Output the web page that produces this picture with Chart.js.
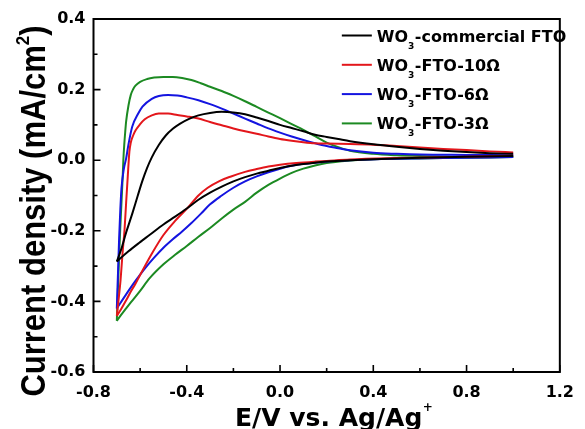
<!DOCTYPE html>
<html>
<head>
<meta charset="utf-8">
<script src="https://cdn.jsdelivr.net/npm/chart.js@4.4.1/dist/chart.umd.min.js"></script>
<style>
    html, body { margin: 0; padding: 0; background: #fff; }
    #wrap { width: 585px; height: 429px; }
</style>
</head>
<body>
<div id="wrap"><canvas id="cvChart"></canvas></div>
<script>
// Cyclic voltammograms: [potential (V vs Ag/Ag+), current density (mA/cm2)]
// each scan is split in an anodic (upper) and cathodic (lower) branch, sorted by potential
const commercialUp = [[-0.70,-0.287],[-0.68,-0.25],[-0.66,-0.205],[-0.633,-0.15],[-0.61,-0.10],[-0.59,-0.058],[-0.57,-0.022],[-0.55,0.008],[-0.52,0.043],[-0.49,0.070],[-0.46,0.089],[-0.43,0.103],[-0.39,0.117],[-0.35,0.127],[-0.30,0.134],[-0.25,0.137],[-0.20,0.135],[-0.15,0.130],[-0.10,0.121],[-0.05,0.111],[0.0,0.100],[0.05,0.091],[0.10,0.082],[0.15,0.072],[0.20,0.066],[0.25,0.060],[0.30,0.054],[0.40,0.045],[0.50,0.038],[0.60,0.032],[0.70,0.027],[0.80,0.023],[0.90,0.020],[1.00,0.018]];
const commercialDown = [[-0.70,-0.287],[-0.65,-0.258],[-0.60,-0.232],[-0.56,-0.212],[-0.50,-0.182],[-0.45,-0.160],[-0.40,-0.137],[-0.35,-0.112],[-0.30,-0.092],[-0.25,-0.075],[-0.20,-0.060],[-0.15,-0.048],[-0.10,-0.038],[-0.05,-0.030],[0.0,-0.022],[0.05,-0.016],[0.10,-0.011],[0.15,-0.007],[0.20,-0.004],[0.30,0.0],[0.40,0.003],[0.60,0.007],[0.80,0.010],[1.00,0.012]];

const ohm10Up = [[-0.70,-0.441],[-0.69,-0.38],[-0.684,-0.34],[-0.675,-0.26],[-0.667,-0.198],[-0.66,-0.12],[-0.653,-0.045],[-0.646,0.025],[-0.64,0.05],[-0.63,0.07],[-0.62,0.084],[-0.60,0.102],[-0.58,0.116],[-0.55,0.127],[-0.52,0.132],[-0.48,0.132],[-0.44,0.128],[-0.40,0.124],[-0.35,0.118],[-0.30,0.108],[-0.25,0.099],[-0.20,0.090],[-0.15,0.082],[-0.10,0.075],[-0.05,0.067],[0.0,0.060],[0.05,0.055],[0.10,0.051],[0.15,0.048],[0.20,0.047],[0.30,0.046],[0.40,0.044],[0.50,0.040],[0.60,0.036],[0.70,0.032],[0.80,0.029],[0.90,0.025],[1.00,0.022]];
const ohm10Down = [[-0.70,-0.441],[-0.68,-0.42],[-0.66,-0.397],[-0.64,-0.372],[-0.62,-0.35],[-0.60,-0.325],[-0.55,-0.265],[-0.50,-0.212],[-0.45,-0.172],[-0.43,-0.158],[-0.40,-0.138],[-0.35,-0.100],[-0.31,-0.078],[-0.26,-0.059],[-0.21,-0.046],[-0.15,-0.033],[-0.10,-0.025],[-0.05,-0.018],[0.0,-0.013],[0.07,-0.008],[0.15,-0.004],[0.20,-0.002],[0.30,0.002],[0.50,0.006],[0.80,0.010],[1.00,0.013]];

const ohm6Up = [[-0.70,-0.42],[-0.695,-0.32],[-0.69,-0.22],[-0.685,-0.14],[-0.68,-0.08],[-0.67,-0.025],[-0.66,0.005],[-0.65,0.045],[-0.634,0.095],[-0.61,0.130],[-0.59,0.152],[-0.55,0.174],[-0.52,0.182],[-0.48,0.185],[-0.44,0.183],[-0.40,0.178],[-0.35,0.170],[-0.30,0.159],[-0.25,0.146],[-0.20,0.132],[-0.15,0.118],[-0.10,0.104],[-0.05,0.090],[0.0,0.078],[0.05,0.067],[0.10,0.057],[0.15,0.048],[0.20,0.040],[0.25,0.034],[0.30,0.028],[0.40,0.021],[0.50,0.018],[0.60,0.016],[0.80,0.015],[1.00,0.014]];
const ohm6Down = [[-0.70,-0.42],[-0.66,-0.38],[-0.62,-0.342],[-0.58,-0.307],[-0.54,-0.276],[-0.50,-0.248],[-0.46,-0.224],[-0.42,-0.202],[-0.38,-0.178],[-0.34,-0.152],[-0.30,-0.125],[-0.25,-0.100],[-0.20,-0.078],[-0.15,-0.060],[-0.10,-0.046],[-0.05,-0.034],[0.0,-0.024],[0.05,-0.016],[0.10,-0.010],[0.20,-0.004],[0.30,0.0],[0.50,0.004],[0.80,0.007],[1.00,0.009]];

const ohm3Up = [[-0.70,-0.455],[-0.695,-0.36],[-0.69,-0.27],[-0.685,-0.19],[-0.68,-0.12],[-0.675,-0.05],[-0.672,0.0],[-0.668,0.045],[-0.664,0.08],[-0.66,0.11],[-0.65,0.155],[-0.64,0.185],[-0.63,0.201],[-0.62,0.211],[-0.60,0.222],[-0.57,0.230],[-0.54,0.234],[-0.50,0.236],[-0.46,0.236],[-0.42,0.233],[-0.38,0.227],[-0.34,0.218],[-0.30,0.208],[-0.25,0.196],[-0.20,0.182],[-0.15,0.167],[-0.10,0.151],[-0.05,0.135],[0.0,0.119],[0.05,0.102],[0.10,0.086],[0.15,0.068],[0.20,0.050],[0.25,0.037],[0.30,0.027],[0.40,0.018],[0.50,0.014],[0.60,0.012],[0.80,0.010],[1.00,0.010]];
const ohm3Down = [[-0.70,-0.455],[-0.68,-0.437],[-0.66,-0.42],[-0.64,-0.403],[-0.60,-0.37],[-0.56,-0.335],[-0.50,-0.295],[-0.45,-0.268],[-0.40,-0.243],[-0.35,-0.217],[-0.30,-0.192],[-0.25,-0.165],[-0.20,-0.140],[-0.15,-0.118],[-0.10,-0.092],[-0.05,-0.070],[0.0,-0.052],[0.05,-0.036],[0.10,-0.024],[0.15,-0.015],[0.20,-0.008],[0.30,-0.001],[0.40,0.003],[0.60,0.005],[0.80,0.007],[1.00,0.009]];

const seriesNames = ['WO₃-commercial FTO', 'WO₃-FTO-10Ω', 'WO₃-FTO-6Ω', 'WO₃-FTO-3Ω'];
const seriesColors = ['#000000', '#e3161b', '#1414e0', '#1c8a22'];

const xTickValues = [-0.8, -0.4, 0.0, 0.4, 0.8, 1.2];
const xMinorValues = [-0.6, -0.2, 0.2, 0.6, 1.0];
const yTickValues = [-0.6, -0.4, -0.2, 0.0, 0.2, 0.4];
const yMinorValues = [-0.5, -0.3, -0.1, 0.1, 0.3];

const xTitle = 'E/V vs. Ag/Ag';
const yTitle = 'Current density (mA/cm';

const branches = [
    [commercialUp, commercialDown],
    [ohm10Up, ohm10Down],
    [ohm6Up, ohm6Down],
    [ohm3Up, ohm3Down]
];

const toPoints = arr => arr.map(p => ({ x: p[0], y: p[1] }));
const fmt = v => (Math.abs(v) < 1e-9 ? '0.0' : v.toFixed(1));

const datasets = [];
branches.forEach((pair, i) => {
    pair.forEach((branch, k) => {
        datasets.push({
            label: seriesNames[i],
            data: toPoints(branch),
            showLine: true,
            borderColor: seriesColors[i],
            backgroundColor: seriesColors[i],
            borderWidth: 2,
            pointRadius: 0,
            cubicInterpolationMode: 'monotone',
            legendRow: k === 0 ? i : -1
        });
    });
});

// frame round the plot plus inward ticks (major and minor)
const frameTicks = {
    id: 'frameTicks',
    afterDatasetsDraw(chart) {
        const { ctx, chartArea: a, scales: { x, y } } = chart;
        ctx.save();
        ctx.strokeStyle = '#000';
        ctx.lineWidth = 2;
        ctx.strokeRect(a.left, a.top, a.right - a.left, a.bottom - a.top);
        ctx.lineWidth = 1.6;
        ctx.beginPath();
        xTickValues.forEach(v => { const p = x.getPixelForValue(v); ctx.moveTo(p, a.bottom); ctx.lineTo(p, a.bottom - 7); });
        xMinorValues.forEach(v => { const p = x.getPixelForValue(v); ctx.moveTo(p, a.bottom); ctx.lineTo(p, a.bottom - 4); });
        yTickValues.forEach(v => { const p = y.getPixelForValue(v); ctx.moveTo(a.left, p); ctx.lineTo(a.left + 7, p); });
        yMinorValues.forEach(v => { const p = y.getPixelForValue(v); ctx.moveTo(a.left, p); ctx.lineTo(a.left + 4, p); });
        ctx.stroke();
        ctx.restore();
    }
};

// axis titles with the superscripts
const axisTitles = {
    id: 'axisTitles',
    afterDraw(chart) {
        const { ctx, chartArea: a } = chart;
        ctx.save();
        ctx.fillStyle = '#000';
        ctx.textBaseline = 'alphabetic';
        ctx.textAlign = 'left';

        // x title
        ctx.font = 'bold 25px "DejaVu Sans"';
        const xw = ctx.measureText(xTitle).width;
        const x0 = (a.left + a.right) / 2 + 2 - xw / 2;
        ctx.fillText(xTitle, x0, 426);
        ctx.font = 'bold 12px "DejaVu Sans"';
        ctx.fillText('+', x0 + xw + 0.5, 411);

        // y title, rotated and a bit wider across
        ctx.translate(45, 211);
        ctx.scale(1.12, 1);
        ctx.rotate(-Math.PI / 2);
        ctx.font = 'bold 31px "Liberation Sans", Arial';
        const w1 = ctx.measureText(yTitle).width;
        ctx.font = 'bold 17px "Liberation Sans", Arial';
        const w2 = ctx.measureText('2').width;
        ctx.font = 'bold 31px "Liberation Sans", Arial';
        const w3 = ctx.measureText(')').width;
        let cx = -(w1 + w2 + w3) / 2;
        ctx.fillText(yTitle, cx, 0);
        cx += w1;
        ctx.font = 'bold 17px "Liberation Sans", Arial';
        ctx.fillText('2', cx, -14);
        cx += w2;
        ctx.font = 'bold 31px "Liberation Sans", Arial';
        ctx.fillText(')', cx, 0);
        ctx.restore();
    }
};

// legend inside the plot, WO3 with a lowered 3
const cvLegend = {
    id: 'cvLegend',
    afterDraw(chart) {
        const { ctx, chartArea: a } = chart;
        const lineX0 = a.right - 218;
        const lineX1 = lineX0 + 30;
        const textX = lineX1 + 5;
        ctx.save();
        chart.data.datasets.forEach(ds => {
            if (ds.legendRow < 0) return;
            const rowY = a.top + 16.5 + ds.legendRow * 29.3;
            ctx.strokeStyle = ds.borderColor;
            ctx.lineWidth = 2;
            ctx.beginPath();
            ctx.moveTo(lineX0, rowY);
            ctx.lineTo(lineX1, rowY);
            ctx.stroke();

            const parts = ds.label.split('₃');
            ctx.fillStyle = '#000';
            ctx.textBaseline = 'alphabetic';
            ctx.textAlign = 'left';
            let tx = textX;
            ctx.font = 'bold 16px "DejaVu Sans"';
            ctx.fillText(parts[0], tx, rowY + 6);
            tx += ctx.measureText(parts[0]).width;
            ctx.font = 'bold 9px "DejaVu Sans"';
            ctx.fillText('3', tx, rowY + 13);
            tx += ctx.measureText('3').width + 0.5;
            ctx.font = 'bold 16px "DejaVu Sans"';
            ctx.fillText(parts[1], tx, rowY + 6);
        });
        ctx.restore();
    }
};

const ctx = document.getElementById('cvChart').getContext('2d');
new Chart(ctx, {
    type: 'scatter',
    data: { datasets: datasets },
    options: {
        responsive: true,
        maintainAspectRatio: false,
        animation: false,
        layout: { padding: { top: 19, right: 16, left: 0, bottom: 0 } },
        plugins: {
            legend: { display: false },
            tooltip: { enabled: false }
        },
        scales: {
            x: {
                type: 'linear',
                min: -0.8,
                max: 1.2,
                afterBuildTicks: scale => { scale.ticks = xTickValues.map(v => ({ value: v })); },
                afterFit: scale => { scale.height = 57; },
                grid: { display: false, drawTicks: false },
                border: { display: false },
                ticks: {
                    padding: 11,
                    color: '#000',
                    maxRotation: 0,
                    font: { family: 'DejaVu Sans', size: 16, weight: 'bold' },
                    callback: v => fmt(v)
                }
            },
            y: {
                type: 'linear',
                min: -0.6,
                max: 0.4,
                afterBuildTicks: scale => { scale.ticks = yTickValues.map(v => ({ value: v })); },
                afterFit: scale => { scale.width = 93.5; },
                grid: { display: false, drawTicks: false },
                border: { display: false },
                ticks: {
                    padding: 8,
                    color: '#000',
                    font: { family: 'DejaVu Sans', size: 16, weight: 'bold' },
                    callback: v => fmt(v)
                }
            }
        }
    },
    plugins: [frameTicks, axisTitles, cvLegend]
});
</script>
</body>
</html>
